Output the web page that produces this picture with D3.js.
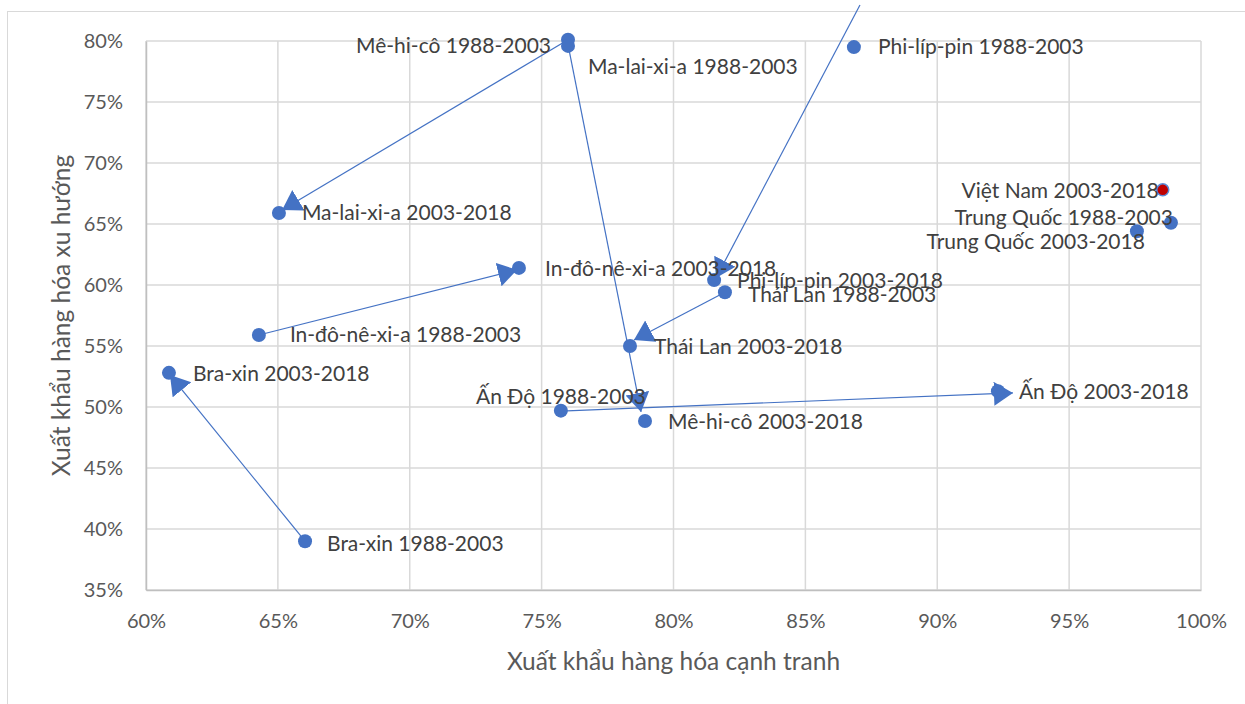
<!DOCTYPE html>
<html>
<head>
<meta charset="utf-8">
<script src="https://cdn.jsdelivr.net/npm/d3@7"></script>
<style>
  body { margin:0; background:#fff; }
  text { font-family: Lato, "Open Sans", sans-serif; }
</style>
</head>
<body>
<div id="chart"></div>
<script>
// points: label, competitive exports (x), trending exports (y)
const labels = ["Mê-hi-cô 1988-2003","Ma-lai-xi-a 1988-2003","Phi-líp-pin 1988-2003","Ma-lai-xi-a 2003-2018",
  "In-đô-nê-xi-a 2003-2018","In-đô-nê-xi-a 1988-2003","Bra-xin 2003-2018","Bra-xin 1988-2003",
  "Ấn Độ 1988-2003","Ấn Độ 2003-2018","Mê-hi-cô 2003-2018","Thái Lan 2003-2018","Thái Lan 1988-2003",
  "Phi-líp-pin 2003-2018","Việt Nam 2003-2018","Trung Quốc 1988-2003","Trung Quốc 2003-2018"]
const xVals = [76.0, 76.0, 86.84, 65.04, 74.14, 64.28, 60.87, 66.03, 75.73, 92.3, 78.92, 78.35, 81.95, 81.54, 98.55, 98.86, 97.57]
const yVals = [80.1, 79.6, 79.5, 65.9, 61.4, 55.9, 52.8, 39.0, 49.7, 51.3, 48.85, 55.0, 59.4, 60.4, 67.8, 65.1, 64.4]
const highlight = "Việt Nam 2003-2018"

// arrows 1988-2003 -> 2003-2018 (start and tip, in %)
const arrowFromX = [76.0, 76.0, 87.07, 81.95, 64.28, 66.03, 75.73]
const arrowFromY = [80.1, 79.7, 82.95, 59.4, 55.9, 39.0, 49.67]
const arrowToX   = [65.16, 78.77, 81.61, 78.50, 74.07, 60.91, 92.87]
const arrowToY   = [66.15, 49.6, 60.57, 55.49, 61.24, 52.62, 51.15]

const xTicks = [60,65,70,75,80,85,90,95,100]
const yTicks = [35,40,45,50,55,60,65,70,75,80]

// label placement [anchor, dx, dy] per point
const labelPos = [["end",-17,6],["start",20,21],["start",24,0],["start",23,0],["start",26,1],["start",31,0],
  ["start",24,1],["start",22,2],["middle",0,-14],["start",21,1],["start",23,1],["start",24,1],["start",23,2],
  ["start",23,1],["end",-4,1],["end",2,-5],["end",8,10]]

const W = 1245, H = 704
const margin = {top:41, right:44, bottom:114, left:146}
const width = W - margin.left - margin.right,
      height = H - margin.top - margin.bottom

const x = d3.scaleLinear().domain([60,100]).range([0, width])
const y = d3.scaleLinear().domain([35,80]).range([height, 0])

const root = d3.select("#chart").append("svg")
  .attr("width", W).attr("height", H)

root.append("rect")
  .attr("x",7.5).attr("y",11.5).attr("width",W).attr("height",H)
  .attr("fill","none").attr("stroke","#d9d9d9")

const svg = root.append("g")
  .attr("transform","translate(" + margin.left + "," + margin.top + ")")

// grid
svg.selectAll(null).data(xTicks).enter().append("line")
  .attr("x1", d=>x(d)).attr("x2", d=>x(d)).attr("y1",0).attr("y2",height)
  .style("stroke","#d9d9d9").style("stroke-width",1.5)
svg.selectAll(null).data(yTicks).enter().append("line")
  .attr("y1", d=>y(d)).attr("y2", d=>y(d)).attr("x1",0).attr("x2",width)
  .style("stroke","#d9d9d9").style("stroke-width",1.5)

// axes
const xAxis = svg.append("g")
  .attr("transform","translate(0," + height + ")")
  .call(d3.axisBottom(x).tickValues(xTicks).tickSize(0).tickPadding(24).tickFormat(d => d + "%"))
xAxis.select(".domain").attr("stroke","#bfbfbf").attr("stroke-width",1.5)
xAxis.selectAll("text").style("font-size","20px").attr("fill","#595959")

const yAxis = svg.append("g")
  .call(d3.axisLeft(y).tickValues(yTicks).tickSize(0).tickPadding(23).tickFormat(d => d + "%"))
yAxis.select(".domain").attr("stroke","#bfbfbf").attr("stroke-width",1.5)
yAxis.selectAll("text").style("font-size","20px").attr("fill","#595959")

svg.append("text")
  .attr("x", width/2).attr("y", height + 80)
  .attr("text-anchor","middle")
  .style("font-size","24.5px").attr("fill","#595959")
  .text("Xuất khẩu hàng hóa cạnh tranh")

svg.append("text")
  .attr("transform","rotate(-90)")
  .attr("x", -height/2).attr("y", -76)
  .attr("text-anchor","middle")
  .style("font-size","24.5px").attr("fill","#595959")
  .text("Xuất khẩu hàng hóa xu hướng")

// arrows
svg.append("defs").append("marker")
  .attr("id","tri")
  .attr("markerUnits","userSpaceOnUse")
  .attr("refX",19).attr("refY",12)
  .attr("markerWidth",21).attr("markerHeight",26)
  .attr("orient","auto")
  .append("path").attr("d","M0 0 19 12 0 24Z").attr("fill","#4472c4")

svg.selectAll(null).data(d3.range(arrowFromX.length)).enter().append("line")
  .attr("x1", i=>x(arrowFromX[i])).attr("y1", i=>y(arrowFromY[i]))
  .attr("x2", i=>x(arrowToX[i])).attr("y2", i=>y(arrowToY[i]))
  .style("stroke","#4472c4").style("stroke-width",1.2)
  .attr("marker-end","url(#tri)")

// points
const pts = labels.map((l,i) => ({label:l, x:xVals[i], y:yVals[i], pos:labelPos[i]}))

svg.selectAll(null).data(pts).enter().append("circle")
  .attr("cx", d=>x(d.x)).attr("cy", d=>y(d.y))
  .attr("r", d => d.label == highlight ? 6 : 7)
  .attr("fill", d => d.label == highlight ? "#c00000" : "#4472c4")
  .attr("stroke", d => d.label == highlight ? "#5b8bd8" : "none")
  .attr("stroke-width", 1.5)

svg.selectAll(null).data(pts).enter().append("text")
  .attr("x", d=>x(d.x) + d.pos[1]).attr("y", d=>y(d.y) + d.pos[2])
  .attr("dy","0.35em")
  .attr("text-anchor", d=>d.pos[0])
  .style("font-size","21px").attr("fill","#404040")
  .text(d=>d.label)
</script>
</body>
</html>
